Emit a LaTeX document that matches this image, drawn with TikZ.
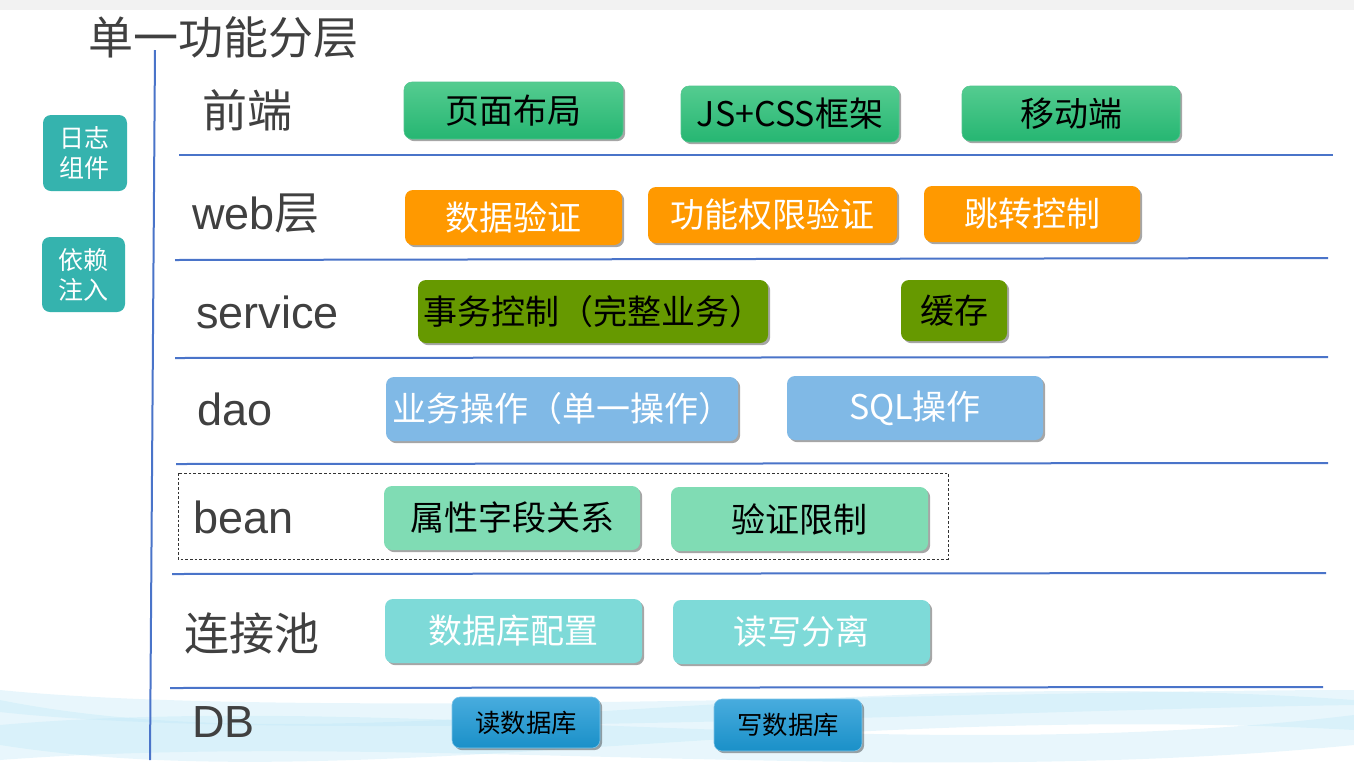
\documentclass[tikz,border=0pt]{standalone}
\usepackage{fontspec}
\setmainfont{Noto Sans CJK SC}
\newfontfamily\lat{Liberation Sans}
\usetikzlibrary{shadows}
\definecolor{linecol}{RGB}{74,116,201}
\definecolor{tealbox}{RGB}{53,179,174}
\definecolor{gtop}{RGB}{84,204,144}
\definecolor{gbot}{RGB}{38,182,114}
\definecolor{orangebox}{RGB}{255,153,0}
\definecolor{olivebox}{RGB}{102,153,0}
\definecolor{bluebox}{RGB}{128,185,230}
\definecolor{mintbox}{RGB}{128,220,180}
\definecolor{lteal}{RGB}{126,218,216}
\definecolor{dbtop}{RGB}{72,172,222}
\definecolor{dbbot}{RGB}{26,144,200}
\definecolor{labelcol}{RGB}{64,64,64}
\definecolor{wavecol}{RGB}{190,232,248}
\def\u{0.75pt}
\tikzset{
  box/.style={rounded corners=6pt, inner sep=0pt, font=\fontsize{25.5pt}{28pt}\selectfont,
    drop shadow={shadow xshift=1.6pt, shadow yshift=-1.6pt, opacity=0.35, fill=black}},
  greenbox/.style={box, top color=gtop, bottom color=gbot, draw=gbot!80!white, line width=0.4pt, text=black},
  orbox/.style={box, fill=orangebox, text=white},
  olbox/.style={box, fill=olivebox, text=black},
  blbox/.style={box, fill=bluebox, text=white},
  mtbox/.style={box, fill=mintbox, text=black},
  ltbox/.style={box, fill=lteal, text=white},
  dbbox/.style={box, top color=dbtop, bottom color=dbbot, draw=dbtop!70!white, line width=0.4pt, text=black, font=\fontsize{19pt}{22pt}\selectfont},
  sidebox/.style={rounded corners=6pt, fill=tealbox, text=white, inner sep=0pt, align=center,
    font=\fontsize{18.75pt}{22.5pt}\selectfont},
  layer/.style={anchor=west, inner sep=0pt, text=labelcol, font=\fontsize{33.75pt}{36pt}\selectfont},
  sep/.style={draw=linecol, line width=1.5pt},
  wave/.style={fill=wavecol, opacity=0.35}
}
\begin{document}
\begin{tikzpicture}[x=0.75pt,y=-0.75pt]
\useasboundingbox (0,0) rectangle (1354,776);
\fill[white] (0,0) rectangle (1354,776);
\fill[gray!10] (0,0) rectangle (1354,10);
% background waves
\fill[wave] (0,700) .. controls (350,770) and (800,660) .. (1354,700) -- (1354,730) .. controls (800,700) and (350,800) .. (0,745) -- cycle;
\fill[wave] (0,725) .. controls (400,690) and (900,770) .. (1354,715) -- (1354,745) .. controls (900,790) and (400,730) .. (0,760) -- cycle;
\fill[wave] (0,690) .. controls (300,720) and (1000,690) .. (1354,690) -- (1354,705) .. controls (1000,710) and (300,745) .. (0,712) -- cycle;
% title
\node[anchor=west, inner sep=0pt, text=labelcol, font=\fontsize{33.75pt}{36pt}\selectfont] (title) at (88,38) {单一功能分层};
% vertical line
\coordinate (vtop) at (155,50);
\coordinate (vbot) at (150,760);
\draw[sep] (vtop) -- (vbot);
% horizontal separators
\coordinate (h1a) at (179,155); \coordinate (h1b) at (1333,155);
\coordinate (h2a) at (175,260); \coordinate (h2b) at (1328,258);
\coordinate (h3a) at (175,358); \coordinate (h3b) at (1328,357);
\coordinate (h4a) at (176,464); \coordinate (h4b) at (1328,463);
\coordinate (h5a) at (172,574); \coordinate (h5b) at (1326,573);
\coordinate (h6a) at (170,688); \coordinate (h6b) at (1323,687);
\draw[sep] (h1a) -- (h1b);
\draw[sep] (h2a) -- (h2b);
\draw[sep] (h3a) -- (h3b);
\draw[sep] (h4a) -- (h4b);
\draw[sep] (h5a) -- (h5b);
\draw[sep] (h6a) -- (h6b);
% side boxes
\node[sidebox, minimum width=84*\u, minimum height=76*\u] (log) at (85,153) {日志\\组件};
\node[sidebox, minimum width=83*\u, minimum height=75*\u] (di) at (83.5,274.5) {依赖\\注入};
% layer labels
\node[layer] (Lfront) at (202,110) {前端};
\node[layer] (Lweb) at (192,214) {{\lat web}层};
\node[layer] (Lsvc) at (196,312) {\lat service};
\node[layer] (Ldao) at (197,409) {\lat dao};
\node[layer] (Lbean) at (193,517) {\lat bean};
\node[layer] (Lpool) at (184,633) {连接池};
\node[layer] (Ldb) at (192,722) {\lat DB};
% dashed frame
\coordinate (fa) at (178,473); \coordinate (fb) at (948,559);
\draw[black!80, line width=0.6pt, dash pattern=on 2pt off 1.5pt] (fa) rectangle (fb);
% row 1
\node[greenbox, minimum width=219*\u, minimum height=57*\u] (n11) at (513.5,110.5) {页面布局};
\node[greenbox, minimum width=218*\u, minimum height=56*\u] (n12) at (790,114) {JS+CSS框架};
\node[greenbox, minimum width=218*\u, minimum height=55*\u] (n13) at (1071,113.5) {移动端};
% row 2
\node[orbox, minimum width=217*\u, minimum height=55*\u] (n21) at (513.5,217.5) {数据验证};
\node[orbox, minimum width=249*\u, minimum height=56*\u] (n22) at (772.5,215) {功能权限验证};
\node[orbox, minimum width=216*\u, minimum height=56*\u] (n23) at (1032,214) {跳转控制};
% row 3
\node[olbox, minimum width=350*\u, minimum height=63*\u] (n31) at (593,311.5) {事务控制（完整业务）};
\node[olbox, minimum width=106*\u, minimum height=61*\u] (n32) at (954,310.5) {缓存};
% row 4
\node[blbox, minimum width=352*\u, minimum height=64*\u] (n41) at (562,409) {业务操作（单一操作）};
\node[blbox, minimum width=256*\u, minimum height=64*\u] (n42) at (915,408) {SQL操作};
% row 5
\node[mtbox, minimum width=256*\u, minimum height=64*\u] (n51) at (512,518) {属性字段关系};
\node[mtbox, minimum width=257*\u, minimum height=64*\u] (n52) at (799.5,519) {验证限制};
% row 6
\node[ltbox, minimum width=257*\u, minimum height=64*\u] (n61) at (513.5,631) {数据库配置};
\node[ltbox, minimum width=257*\u, minimum height=64*\u] (n62) at (801.5,632) {读写分离};
% row 7
\node[dbbox, minimum width=148*\u, minimum height=51*\u] (n71) at (526,722.5) {读数据库};
\node[dbbox, minimum width=148*\u, minimum height=52*\u] (n72) at (788,725) {写数据库};
\end{tikzpicture}
\end{document}
